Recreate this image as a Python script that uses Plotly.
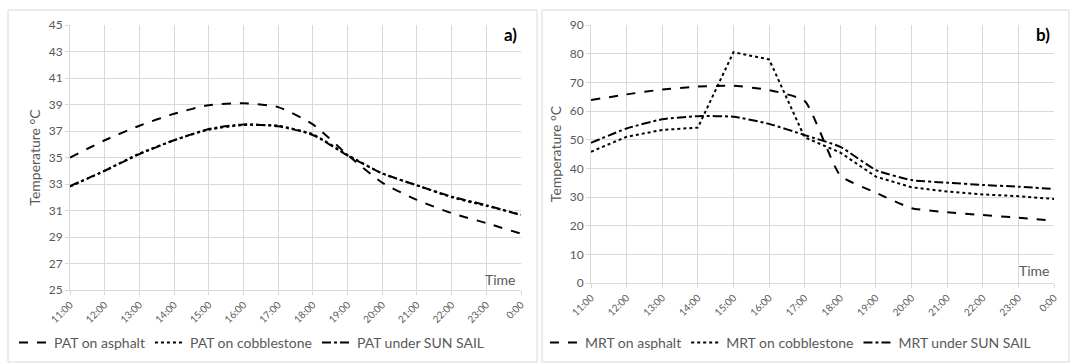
import plotly.graph_objects as go

hours = ["11:00","12:00","13:00","14:00","15:00","16:00","17:00","18:00","19:00","20:00","21:00","22:00","23:00","0:00"]

pat_asphalt = [35.0, 36.3, 37.4, 38.3, 38.95, 39.1, 38.8, 37.5, 35.2, 33.1, 31.8, 30.8, 30.05, 29.25]
pat_cobble = [32.8, 34.0, 35.3, 36.3, 37.1, 37.45, 37.4, 36.75, 35.2, 33.8, 32.9, 32.0, 31.35, 30.7]
pat_sunsail = [32.85, 34.0, 35.25, 36.3, 37.15, 37.5, 37.35, 36.7, 35.15, 33.8, 32.9, 32.05, 31.4, 30.65]

mrt_asphalt = [63.8, 65.8, 67.5, 68.5, 68.8, 67.3, 63.5, 37.5, 31.5, 26.1, 24.7, 23.7, 22.8, 21.7]
mrt_cobble = [45.8, 51.0, 53.4, 54.2, 80.5, 78.0, 50.8, 45.5, 37.1, 33.4, 31.9, 30.9, 30.3, 29.3]
mrt_sunsail = [48.9, 53.9, 57.1, 58.2, 58.0, 55.5, 51.6, 47.5, 39.4, 35.9, 35.0, 34.2, 33.6, 32.8]

W, H = 1070, 363
def px(x): return x / W
def py(y): return 1 - y / H

GREY = "#595959"
GRID = "#d9d9d9"
FONT = "Lato, Open Sans, sans-serif"

fig = go.Figure()
x = list(range(len(hours)))

def add(xa, ya, yv, name, dash, legend, shape="spline", smooth=0.6):
    fig.add_trace(go.Scatter(x=x, y=yv, mode="lines", name=name, xaxis=xa, yaxis=ya,
                             legend=legend,
                             line=dict(color="black", width=2, dash=dash, shape=shape, smoothing=smooth)))

add("x", "y", pat_asphalt, "PAT on asphalt", "dash", "legend")
add("x", "y", pat_cobble, "PAT on cobblestone", "dot", "legend")
add("x", "y", pat_sunsail, "PAT under SUN SAIL", "dashdot", "legend")
add("x2", "y2", mrt_asphalt, "MRT on asphalt", "dash", "legend2", "spline", 0.5)
add("x2", "y2", mrt_cobble, "MRT on cobblestone", "dot", "legend2", "linear")
add("x2", "y2", mrt_sunsail, "MRT under SUN SAIL", "dashdot", "legend2", "spline", 0.5)

xcommon = dict(tickmode="array", tickvals=x, ticktext=hours, range=[0, 13], tickangle=-45,
               showgrid=True, gridcolor=GRID, gridwidth=1, showline=True, linecolor=GRID,
               ticks="outside", ticklen=4, tickcolor=GRID, zeroline=False,
               tickfont=dict(size=10, color=GREY, family=FONT), automargin=False)
ycommon = dict(showgrid=True, gridcolor=GRID, gridwidth=1, showline=True, linecolor=GRID,
               ticks="outside", ticklen=4, tickcolor=GRID, zeroline=False,
               tickfont=dict(size=12, color=GREY, family=FONT), automargin=False,
               title=dict(text="Temperature °C", font=dict(size=14, color=GREY, family=FONT), standoff=4))

fig.update_layout(
    width=W, height=H, margin=dict(l=0, r=0, t=0, b=0),
    paper_bgcolor="white", plot_bgcolor="white",
    font=dict(family=FONT, color=GREY),
    xaxis=dict(domain=[px(70), px(521)], anchor="y", **xcommon),
    yaxis=dict(domain=[py(290), py(25)], anchor="x", range=[25, 45], tick0=25, dtick=2, **ycommon),
    xaxis2=dict(domain=[px(591), px(1054)], anchor="y2", **xcommon),
    yaxis2=dict(domain=[py(283), py(25)], anchor="x2", range=[0, 90], dtick=10, **ycommon),
    legend=dict(orientation="h", x=px(14), y=py(343), xanchor="left", yanchor="middle",
                font=dict(size=14, color=GREY, family=FONT), bgcolor="rgba(0,0,0,0)",
                itemwidth=30, tracegroupgap=0),
    legend2=dict(orientation="h", x=px(545), y=py(343), xanchor="left", yanchor="middle",
                 font=dict(size=14, color=GREY, family=FONT), bgcolor="rgba(0,0,0,0)",
                 itemwidth=30, tracegroupgap=0),
    showlegend=True,
    shapes=[
        dict(type="rect", xref="paper", yref="paper", x0=px(8), x1=px(537), y0=py(362), y1=py(10),
             line=dict(color="#d9d9d9", width=1)),
        dict(type="rect", xref="paper", yref="paper", x0=px(542), x1=px(1069), y0=py(362), y1=py(10),
             line=dict(color="#d9d9d9", width=1)),
    ],
    annotations=[
        dict(text="<b>a)</b>", xref="paper", yref="paper", x=px(519), y=py(35), xanchor="right",
             yanchor="middle", showarrow=False, font=dict(size=17, color="black", family=FONT)),
        dict(text="<b>b)</b>", xref="paper", yref="paper", x=px(1052), y=py(35), xanchor="right",
             yanchor="middle", showarrow=False, font=dict(size=17, color="black", family=FONT)),
        dict(text="Time", xref="paper", yref="paper", x=px(518), y=py(279), xanchor="right",
             yanchor="middle", showarrow=False, font=dict(size=14, color=GREY, family=FONT)),
        dict(text="Time", xref="paper", yref="paper", x=px(1052), y=py(270), xanchor="right",
             yanchor="middle", showarrow=False, font=dict(size=14, color=GREY, family=FONT)),
    ],
)

fig.write_html("out.html")
